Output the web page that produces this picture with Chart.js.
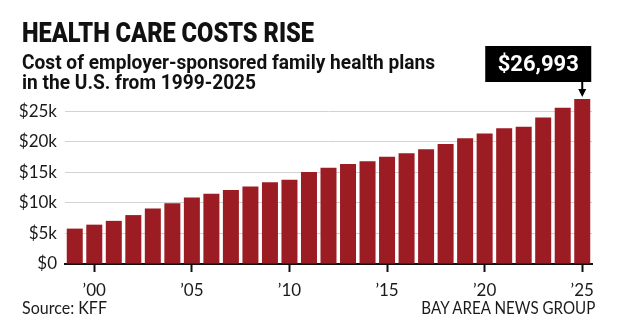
<!DOCTYPE html>
<html>
<head>
<meta charset="utf-8">
<script src="https://cdn.jsdelivr.net/npm/chart.js@4/dist/chart.umd.min.js"></script>
<style>
    html, body { margin: 0; padding: 0; background: #fff; }
    #wrap { position: relative; width: 619px; height: 333px; overflow: hidden; }
    #c { position: absolute; left: 0; top: 0; }
    .txt { position: absolute; white-space: nowrap; line-height: 1; color: #111; display: inline-block; }
    .title { font-family: Roboto, sans-serif; font-weight: 900; font-size: 28px; left: 22px; top: 19px; transform-origin: left; }
    .sub { font-family: Roboto, sans-serif; font-weight: 700; font-size: 21px; left: 22px; transform-origin: left; }
    .foot { font-family: Lato, sans-serif; font-size: 17px; top: 299px; color: #1a1a1a; }
</style>
</head>
<body>
<div id="wrap">
    <canvas id="c" width="619" height="333"></canvas>
    <div class="txt title" data-w="292">HEALTH CARE COSTS RISE</div>
    <div class="txt sub" id="sub1" data-w="413" style="top:52px">Cost of employer-sponsored family health plans</div>
    <div class="txt sub" id="sub2" style="top:72px">in the U.S. from 1999-2025</div>
    <div class="txt foot" data-w="85" style="left:22px; transform-origin:left">Source: KFF</div>
    <div class="txt foot" data-w="174" style="right:24px; transform-origin:right">BAY AREA NEWS GROUP</div>
</div>
<script>
// Data (KFF, average annual premium for family coverage)
const years = [1999, 2000, 2001, 2002, 2003, 2004, 2005, 2006, 2007, 2008, 2009, 2010, 2011, 2012,
               2013, 2014, 2015, 2016, 2017, 2018, 2019, 2020, 2021, 2022, 2023, 2024, 2025];
const costs = [5791, 6438, 7061, 8003, 9068, 9950, 10880, 11480, 12106, 12680, 13375, 13770, 15073, 15745,
               16351, 16834, 17545, 18142, 18764, 19616, 20576, 21342, 22221, 22463, 23968, 25572, 26993];
const yTicks = [0, 5000, 10000, 15000, 20000, 25000];

const BAR_COLOR = '#9c1c23';

// squeeze headline texts to the widths of the original
document.querySelectorAll('.txt[data-w]').forEach(el => {
    const w = el.getBoundingClientRect().width;
    const s = +el.dataset.w / w;
    el.style.transform = 'scaleX(' + s + ')';
    if (el.id === 'sub1') {
        document.getElementById('sub2').style.transform = 'scaleX(' + s + ')';
    }
});

// callout box over the last bar
const callout = {
    id: 'callout',
    afterDraw(chart) {
        const meta = chart.getDatasetMeta(0);
        const bar = meta.data[meta.data.length - 1];
        const ctx = chart.ctx;
        const x = bar.x, top = bar.y;
        const boxL = x - 97, boxR = x + 9, boxT = 46, boxB = 82;

        ctx.save();
        ctx.fillStyle = '#000';
        ctx.fillRect(boxL, boxT, boxR - boxL, boxB - boxT);
        // stem + arrow head
        ctx.fillRect(x - 1, boxB, 2, top - 9 - boxB);
        ctx.beginPath();
        ctx.moveTo(x - 4, top - 10);
        ctx.lineTo(x + 4, top - 10);
        ctx.lineTo(x, top - 2);
        ctx.closePath();
        ctx.fill();

        ctx.fillStyle = '#fff';
        ctx.font = '700 22px Roboto, sans-serif';
        ctx.textAlign = 'center';
        ctx.textBaseline = 'alphabetic';
        const last = costs[costs.length - 1];
        ctx.fillText('$' + last.toLocaleString('en-US'), (boxL + boxR) / 2, 71, 82);
        ctx.restore();
    }
};

new Chart(document.getElementById('c'), {
    type: 'bar',
    data: {
        labels: years,
        datasets: [{
            data: costs,
            backgroundColor: BAR_COLOR,
            borderWidth: 0,
            barPercentage: 0.82,
            categoryPercentage: 1
        }]
    },
    options: {
        responsive: false,
        animation: false,
        layout: { padding: { left: 0, right: 27, top: 99, bottom: 29 } },
        plugins: {
            legend: { display: false },
            tooltip: { enabled: false }
        },
        scales: {
            x: {
                z: 1,
                grid: {
                    offset: false,
                    drawOnChartArea: false,
                    tickLength: 8,
                    tickWidth: 2,
                    tickColor: c => (years[c.index] % 5 === 0 ? '#111' : 'rgba(0,0,0,0)')
                },
                border: { display: true, color: '#111', width: 2 },
                ticks: {
                    autoSkip: false,
                    maxRotation: 0,
                    padding: 8,
                    color: '#1a1a1a',
                    font: { family: 'Lato, sans-serif', size: 17 },
                    callback: (v, i) => (years[i] % 5 === 0 ? '\u2019' + String(years[i]).slice(2) : '')
                },
                afterFit: s => { s.height = 40; }
            },
            y: {
                min: 0,
                max: 27000,
                grid: { color: '#d2d2d2', lineWidth: 1, drawTicks: false },
                border: { display: false },
                afterBuildTicks: s => { s.ticks = yTicks.map(v => ({ value: v })); },
                ticks: {
                    padding: 8,
                    color: '#1a1a1a',
                    font: { family: 'Lato, sans-serif', size: 17 },
                    callback: v => (v === 0 ? '$0' : '$' + v / 1000 + 'k')
                },
                afterFit: s => { s.width = 65; }
            }
        }
    },
    plugins: [callout]
});
</script>
</body>
</html>
